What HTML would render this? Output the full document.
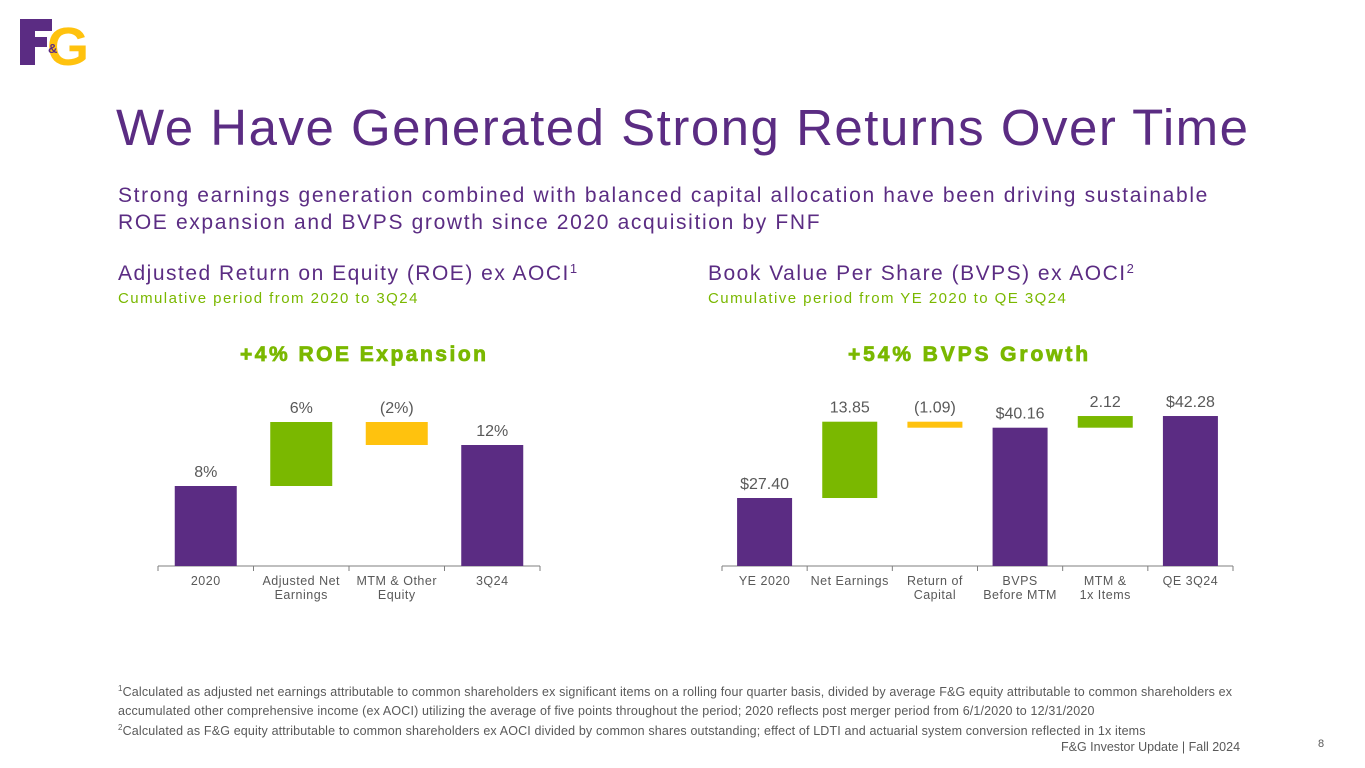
<!DOCTYPE html>
<html><head><meta charset="utf-8"><style>
body{margin:0;width:1365px;height:768px;position:relative;overflow:hidden;background:#fff;font-family:"Liberation Sans",sans-serif}
.t{position:absolute;white-space:nowrap}
.s{font-size:8px;position:relative;top:-5px;line-height:0}
</style></head><body>
<div class="t" style="left:20px;top:15px;width:72px;height:52px">
<svg width="72" height="52"><rect x="0" y="4" width="15" height="46" fill="#5B2C83"/><rect x="0" y="4" width="32" height="12" fill="#5B2C83"/><rect x="0" y="22" width="27" height="10" fill="#5B2C83"/>
<text x="48" y="50" font-family="Liberation Sans" font-weight="bold" font-size="54" fill="#FFC20E" text-anchor="middle">G</text>
<text x="28" y="38" font-family="Liberation Sans" font-weight="bold" font-size="13" fill="#5B2C83">&amp;</text></svg></div>
<div class="t" style="left:116px;top:98px;font-size:51px;color:#5B2C83;letter-spacing:1.5px">We Have Generated Strong Returns Over Time</div>
<div class="t" style="left:118px;top:182px;font-size:21px;line-height:27px;color:#5B2C83;letter-spacing:1.65px">Strong earnings generation combined with balanced capital allocation have been driving sustainable<br>ROE expansion and BVPS growth since 2020 acquisition by FNF</div>
<div class="t" style="left:118px;top:262px;font-size:21px;color:#5B2C83;letter-spacing:1.5px">Adjusted Return on Equity (ROE) ex AOCI<span style="font-size:13px;position:relative;top:-7px">1</span></div>
<div class="t" style="left:118px;top:290px;font-size:15px;color:#7AB800;letter-spacing:1.45px">Cumulative period from 2020 to 3Q24</div>
<div class="t" style="left:708px;top:262px;font-size:21px;color:#5B2C83;letter-spacing:1.5px">Book Value Per Share (BVPS) ex AOCI<span style="font-size:13px;position:relative;top:-7px">2</span></div>
<div class="t" style="left:708px;top:290px;font-size:15px;color:#7AB800;letter-spacing:1.45px">Cumulative period from YE 2020 to QE 3Q24</div>
<div class="t" style="left:240px;top:343px;font-size:21px;font-weight:bold;color:#7AB800;letter-spacing:2.5px;-webkit-text-stroke:0.8px #7AB800">+4% ROE Expansion</div>
<div class="t" style="left:848px;top:343px;font-size:21px;font-weight:bold;color:#7AB800;letter-spacing:2.9px;-webkit-text-stroke:0.8px #7AB800">+54% BVPS Growth</div>
<svg id="chart" class="t" style="left:0;top:0" width="1365" height="768"></svg>
<div class="t" style="left:118px;top:683px;font-size:12.5px;line-height:19.3px;color:#595959;letter-spacing:0.15px">
<span class="s">1</span>Calculated as adjusted net earnings attributable to common shareholders ex significant items on a rolling four quarter basis, divided by average F&amp;G equity attributable to common shareholders ex<br>accumulated other comprehensive income (ex AOCI) utilizing the average of five points throughout the period; 2020 reflects post merger period from 6/1/2020 to 12/31/2020<br><span class="s">2</span>Calculated as F&amp;G equity attributable to common shareholders ex AOCI divided by common shares outstanding; effect of LDTI and actuarial system conversion reflected in 1x items</div>
<div class="t" style="left:1061px;top:740px;font-size:12.5px;color:#595959">F&amp;G Investor Update | Fall 2024</div>
<div class="t" style="left:1318px;top:738px;font-size:11px;color:#595959">8</div>
<script>
const roeCats=[["2020"],["Adjusted Net","Earnings"],["MTM & Other","Equity"],["3Q24"]];
const roeVals=[8.0,6.4,-2.3,12.1];
const roeTypes=["total","delta","delta","total"];
const roeLabels=["8%","6%","(2%)","12%"];
const bvCats=[["YE 2020"],["Net Earnings"],["Return of","Capital"],["BVPS","Before MTM"],["MTM &","1x Items"],["QE 3Q24"]];
const bvVals=[27.40,13.85,-1.09,40.16,2.12,42.28];
const bvTypes=["total","delta","delta","total","delta","total"];
const bvLabels=["$27.40","13.85","(1.09)","$40.16","2.12","$42.28"];
const NS="http://www.w3.org/2000/svg";
const svg=document.getElementById("chart");
function mk(tag,a,p){const e=document.createElementNS(NS,tag);for(const k in a)e.setAttribute(k,a[k]);(p||svg).appendChild(e);return e;}
function draw(name,cats,vals,types,labels,x0,x1,base,pxPer,barW){
  const axisY=566,n=cats.length,step=(x1-x0)/n;
  const y=v=>axisY-(v-base)*pxPer;
  const g=mk("g",{});
  
  
  const ax=mk("line",{x1:x0,x2:x1,y1:axisY,y2:axisY,stroke:"#7f7f7f","stroke-width":1},g);
  
  
  for(let i=0;i<=n;i++){mk("line",{x1:x0+i*step,x2:x0+i*step,y1:axisY,y2:axisY+5,stroke:"#7f7f7f"},g);}
  let run=base;
  for(let i=0;i<n;i++){
    let top,bot,col;
    if(types[i]==="total"){top=y(vals[i]);bot=axisY;col="#5B2C83";run=vals[i];}
    else{const a=run,b=run+vals[i];top=y(Math.max(a,b));bot=y(Math.min(a,b));col=vals[i]>=0?"#7AB800":"#FFC20E";run=b;}
    const cx=x0+step*(i+0.5);
    const r=mk("rect",{x:cx-barW/2,y:top,width:barW,height:Math.max(bot-top,1),fill:col},g);
    
    
    const t=mk("text",{x:cx,y:top-9,"text-anchor":"middle","font-size":16,fill:"#595959","font-family":"Liberation Sans"},g);
    t.textContent=labels[i];
    
    
    cats[i].forEach((s,j)=>{const c=mk("text",{x:cx,y:axisY+19+j*14,"text-anchor":"middle","font-size":12.5,"letter-spacing":0.5,fill:"#595959","font-family":"Liberation Sans"},g);c.textContent=s;
      
      });
  }
}
draw("roe-chart",roeCats,roeVals,roeTypes,roeLabels,158,540,0,10,62);
draw("bvps-chart",bvCats,bvVals,bvTypes,bvLabels,722,1233,15.06,5.51,55);
</script>
</body></html>
